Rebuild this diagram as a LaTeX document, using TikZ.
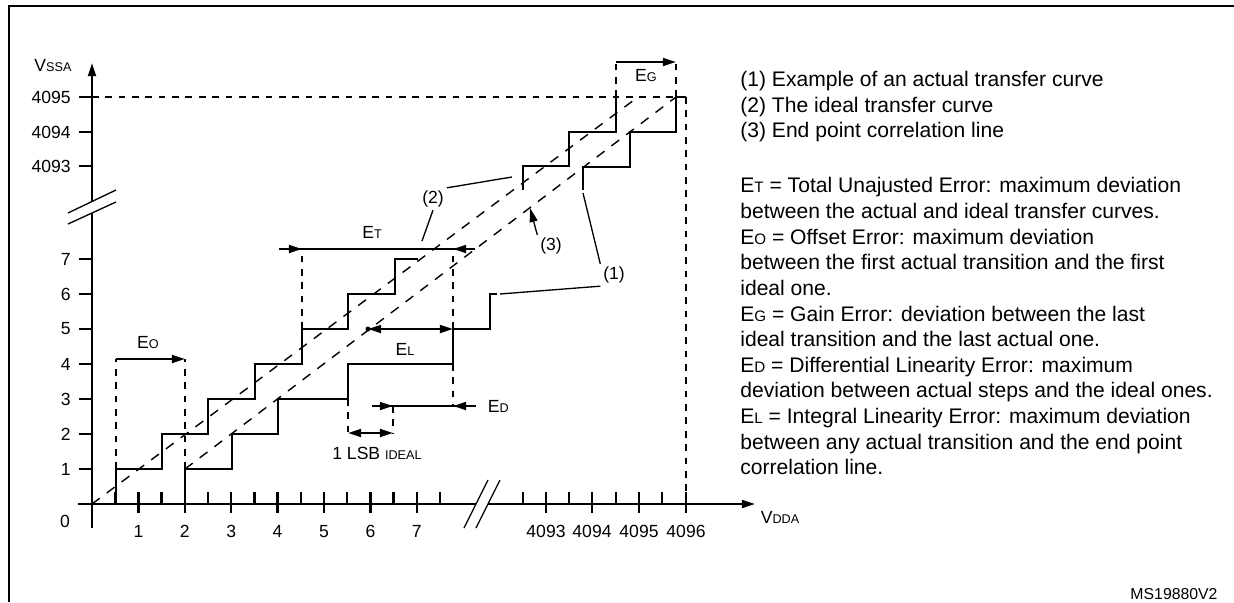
\documentclass[tikz,border=0pt]{standalone}
\usepackage{fontspec}
\setmainfont{Liberation Sans}
\usetikzlibrary{arrows.meta}
\newcommand{\tinycap}[1]{\scalebox{0.72}{#1}}
\tikzset{
	axis/.style={line width=1.3pt},
	stair/.style={line width=1.3pt, line join=miter},
	guide/.style={line width=1.3pt, dash pattern=on 3.8pt off 3.8pt},
	slope/.style={line width=0.8pt, dash pattern=on 5.5pt off 5pt},
	leader/.style={line width=0.75pt},
	arrowed/.style={-{Triangle[length=7.5pt,width=4.5pt]}},
	twoway/.style={{Triangle[length=7.5pt,width=4.5pt]}-{Triangle[length=7.5pt,width=4.5pt]}},
	lbl/.style={font=\fontsize{10}{12}\selectfont, inner sep=1.5pt},
	num/.style={font=\fontsize{10}{12}\selectfont, inner sep=0pt}
}
\begin{document}
\begin{tikzpicture}[x=0.02cm,y=-0.02cm]
	\useasboundingbox (0,0) rectangle (1234,602);
	\draw[axis] (9,602) -- (9,6) -- (1234,6);

	\draw[axis,arrowed] (78,504) -- (755,504);
	\draw[axis,arrowed] (92,528) -- (92,63);
	\node[lbl] (vssa) at (53,66) {V\tinycap{SSA}};
	\node[lbl] (vdda) at (780,517) {V\tinycap{DDA}};
	\node[num] (zero) at (65,521) {0};
	\foreach \k in {1,...,7} {
		\draw[axis] (79,{504-35*\k}) -- (92,{504-35*\k});
		\node[num,anchor=east] at (71,{504-35*\k}) {\k};
		\draw[axis] ({92+46.4*\k},492) -- ({92+46.4*\k},513);
		\node[num,anchor=base] at ({92+46.4*\k},537) {\k};
	}
	\foreach \k in {0,...,7}
		\draw[axis] ({115.2+46.4*\k},492) -- ({115.2+46.4*\k},504);
	\foreach \y/\t in {166/4093,132/4094,97/4095} {
		\draw[axis] (79,\y) -- (92,\y);
		\node[num,anchor=east] at (71,\y) {\t};
	}
	\foreach \x/\t in {546/4093,592/4094,639/4095,686/4096} {
		\draw[axis] (\x,492) -- (\x,513);
		\node[num,anchor=base] at (\x,537) {\t};
	}
	\foreach \x in {523,569,616,662}
		\draw[axis] (\x,492) -- (\x,504);

	\fill[white] (68,213) -- (116,190) -- (116,202) -- (68,224) -- cycle;
	\draw[leader] (68,213) -- (116,190) (68,224) -- (116,202);
	\fill[white] (464,528) -- (488,480) -- (500,480) -- (476,528) -- cycle;
	\draw[leader] (464,528) -- (488,480) (476,528) -- (500,480);

	\draw[stair] (116,504) -- (116,469) -- (162,469) -- (162,434) -- (208,434) -- (208,399)
		-- (255,399) -- (255,364) -- (302,364) -- (302,329) -- (348,329) -- (348,294)
		-- (395,294) -- (395,259) -- (418,259);
	\draw[stair] (523,190) -- (523,166) -- (569,166) -- (569,132) -- (616,132) -- (616,97);
	\draw[stair] (185,504) -- (185,469) -- (232,469) -- (232,434) -- (278,434) -- (278,399)
		-- (348,399) -- (348,364) -- (453,364) -- (453,329) -- (490,329) -- (490,294) -- (497,294);
	\draw[stair] (583,190) -- (583,167) -- (630,167) -- (630,132) -- (676,132) -- (676,97) -- (686,97);

	\draw[slope] (92,504) -- (638,97);
	\draw[slope] (185,469) -- (676,97);

	\draw[guide] (92,97) -- (676,97);
	\draw[guide] (686,97) -- (686,504);
	\draw[guide] (116,469) -- (116,359);
	\draw[guide] (185,469) -- (185,359);
	\draw[guide] (302,329) -- (302,249);
	\draw[guide] (453,329) -- (453,249);
	\draw[guide] (453,364) -- (453,406);
	\draw[guide] (348,399) -- (348,433);
	\draw[guide] (393,406) -- (393,433);
	\draw[guide] (616,97) -- (616,62);
	\draw[guide] (676,97) -- (676,62);

	\draw[axis,arrowed] (116,359) -- (185,359);
	\draw[axis] (279,249) -- (475,249);
	\draw[axis,arrowed] (279,249) -- (302,249);
	\draw[axis,arrowed] (475,249) -- (453,249);
	\draw[axis,twoway] (368,329) -- (453,329);
	\fill (368,329) circle (2.5);
	\draw[axis] (372,406) -- (476,406);
	\draw[axis,arrowed] (372,406) -- (393,406);
	\draw[axis,arrowed] (476,406) -- (453,406);
	\draw[axis,twoway] (348,433) -- (393,433);
	\draw[axis,arrowed] (616,62) -- (676,62);

	\node[lbl] (eo) at (148,343) {E\tinycap{O}};
	\node[lbl] (et) at (372,232) {E\tinycap{T}};
	\node[lbl] (el) at (405,349) {E\tinycap{L}};
	\node[lbl,anchor=west] (ed) at (485,406) {E\tinycap{D}};
	\node[lbl] (eg) at (646,76) {E\tinycap{G}};
	\node[lbl] (lsb) at (377,453) {1 LSB \tinycap{IDEAL}};

	\node[lbl] (c2) at (433,199) {(2)};
	\node[lbl] (c3) at (551,246) {(3)};
	\node[lbl] (c1) at (614,275) {(1)};
	\coordinate (p2a) at (512,177);
	\coordinate (p2b) at (422,241);
	\coordinate (p3) at (530,208);
	\coordinate (p1a) at (583,193);
	\coordinate (p1b) at (500,294);
	\draw[leader] (c2.north east) -- (p2a);
	\draw[leader] (c2.south) -- (p2b);
	\draw[leader,-{Triangle[length=8pt,width=4.5pt]}] (c3.north west) -- (p3);
	\draw[leader] (c1.north west) -- (p1a);
	\draw[leader] (c1.south west) -- (p1b);

	\node[anchor=north west, inner sep=0pt, align=left, font=\fontsize{12}{14.6}\selectfont] (legend) at (740,71) {
		(1) Example of an actual transfer curve\\
		(2) The ideal transfer curve\\
		(3) End point correlation line\\[16.6pt]
		E\tinycap{T} = Total Unajusted Error: maximum deviation\\
		between the actual and ideal transfer curves.\\
		E\tinycap{O} = Offset Error: maximum deviation\\
		between the first actual transition and the first\\
		ideal one.\\
		E\tinycap{G} = Gain Error: deviation between the last\\
		ideal transition and the last actual one.\\
		E\tinycap{D} = Differential Linearity Error: maximum\\
		deviation between actual steps and the ideal ones.\\
		E\tinycap{L} = Integral Linearity Error: maximum deviation\\
		between any actual transition and the end point\\
		correlation line.};
	\node[font=\fontsize{9}{11}\selectfont] (code) at (1174,594) {MS19880V2};
\end{tikzpicture}
\end{document}
